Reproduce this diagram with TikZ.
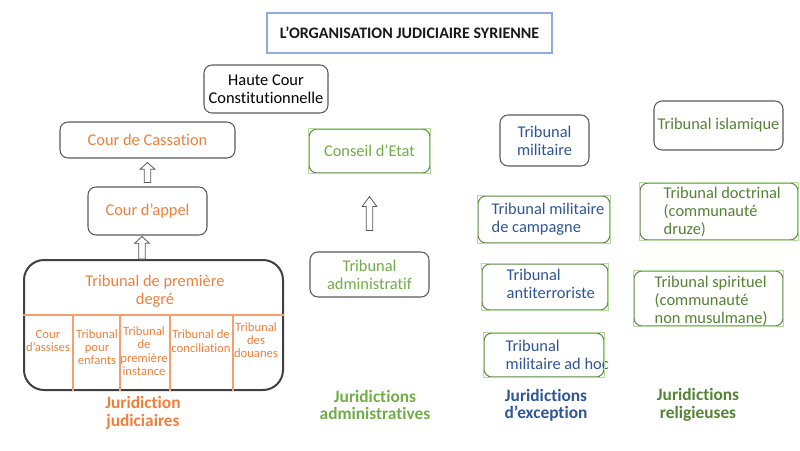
\documentclass[tikz,border=0pt]{standalone}
\usepackage{fontspec}
\setmainfont{Carlito}[Ligatures={NoCommon}]
\usetikzlibrary{calc}

\definecolor{judorange}{HTML}{F07F3C}
\definecolor{admgreen}{HTML}{70AD47}
\definecolor{relgreen}{HTML}{548235}
\definecolor{milblue}{HTML}{2F5597}
\definecolor{boxgray}{HTML}{595959}
\definecolor{bordergreen}{HTML}{5E8A44}
\definecolor{selgreen}{HTML}{B5DBA0}
\definecolor{titleblue}{HTML}{8FAADC}

\tikzset{
  base/.style={rounded corners=6pt, align=center, inner sep=1pt, line width=0.8pt,
    font=\fontsize{12.3}{13.5}\selectfont},
  court/.style={base, draw=boxgray},
  greencourt/.style={base, draw=bordergreen},
  intext/.style={anchor=west, align=left, inner sep=0pt, text=#1,
    font=\fontsize{12.3}{13.5}\selectfont},
  family/.style={align=center, text=#1, font=\bfseries\fontsize{13}{13}\selectfont},
  cell/.style={align=center, inner sep=0pt, text=judorange,
    font=\fontsize{9.5}{10}\selectfont},
  cellline/.style={draw=judorange!75, line width=0.8pt},
  selframe/.style={draw=selgreen, line width=0.5pt},
  hollow/.style={draw=boxgray, fill=white, line width=0.6pt},
}

% hollow upward arrow: from, to, head length
\newcommand{\hollowup}[3]{%
  \draw[hollow] let \p1=(#1), \p2=(#2) in
    (\x1-2.5pt,\y1) -- (\x1-2.5pt,\y2-#3) -- (\x1-5.5pt,\y2-#3) -- (\x1,\y2)
    -- (\x1+5.5pt,\y2-#3) -- (\x1+2.5pt,\y2-#3) -- (\x1+2.5pt,\y1) -- cycle;}

\begin{document}
\begin{tikzpicture}[x=0.75pt,y=-0.75pt]
  \useasboundingbox (0,0) rectangle (800,450);

  \node[draw=titleblue, line width=0.8pt, minimum width=213.75pt, minimum height=30pt,
        font=\bfseries\fontsize{12}{13.5}\selectfont, text=black!90] (titre) at (409.5,33)
        {L’ORGANISATION JUDICIAIRE SYRIENNE};

  % juridictions judiciaires
  \node[court, minimum width=93pt, minimum height=36pt] (hcc) at (266,89)
        {Haute Cour\\Constitutionnelle};
  \node[court, text=judorange, minimum width=131.25pt, minimum height=27pt] (cass) at (147.5,140)
        {Cour de Cassation};
  \node[court, text=judorange, minimum width=89.25pt, minimum height=36pt] (appel) at (147.5,211)
        {Cour d’appel};
  \node[draw=black!75, line width=1.5pt, rounded corners=15pt, minimum width=194.25pt,
        minimum height=97.5pt] (tpd) at (153.5,325) {};
  \node[base, text=judorange] (tpdtitre) at (155,291) {Tribunal de première\\degré};

  \coordinate (sep) at (0,315);
  \draw[cellline] (tpd.west |- sep) -- (tpd.east |- sep);
  \foreach \x in {73,120,170,233}
    \draw[cellline] (\x,315) -- (\x,391);

  \node[cell] (assises)   at (48,341)  {Cour\\d’assises};
  \node[cell] (enfants)   at (97,347)  {Tribunal\\pour\\enfants};
  \node[cell] (instance)  at (144,351) {Tribunal\\de\\première\\instance};
  \node[cell] (concil)    at (201,341) {Tribunal de\\conciliation};
  \node[cell] (douanes)   at (256,340) {Tribunal\\des\\douanes};

  \node[family=judorange] (judic) at (143,413) {Juridiction\\judiciaires};

  \coordinate (a2) at (142,0);
  \hollowup{$(appel.north)+(0,-4)$}{$(cass.south)+(0,4)$}{5pt}
  \hollowup{tpd.north -| a2}{$(appel.south -| a2)+(0,1)$}{5pt}

  % juridictions administratives
  \node[greencourt, text=admgreen, minimum width=90.75pt, minimum height=33pt] (conseil) at (369.5,151)
        {Conseil d’Etat};
  \node[court, text=admgreen, minimum width=89.25pt, minimum height=33.75pt] (admin) at (369.5,274.5)
        {Tribunal\\administratif};
  \hollowup{$(admin.north)+(0,-21)$}{$(conseil.south)+(0,23)$}{7.5pt}

  \node[family=admgreen] (adm) at (375,405) {Juridictions\\administratives};

  % juridictions d'exception
  \node[court, text=milblue, minimum width=66.75pt, minimum height=38.25pt] (milit) at (544.5,140.5)
        {Tribunal\\militaire};
  \node[greencourt, minimum width=99pt, minimum height=35.25pt,
        label={[intext=milblue, xshift=10.5pt]west:Tribunal militaire\\de campagne}] (campagne)
        at (544,219.5) {};
  \node[greencourt, minimum width=94.5pt, minimum height=34.5pt,
        label={[intext=milblue, xshift=18.75pt, yshift=2pt]west:Tribunal\\antiterroriste}] (antiterr)
        at (545,287) {};
  \node[greencourt, minimum width=90pt, minimum height=33pt,
        label={[intext=milblue, xshift=16.5pt]west:Tribunal\\militaire ad hoc}] (adhoc)
        at (544,355) {};

  \node[family=milblue] (except) at (546,405) {Juridictions\\d’exception};

  % juridictions religieuses
  \node[court, text=relgreen, minimum width=96.75pt, minimum height=36.75pt] (islam) at (718.5,125.5)
        {Tribunal islamique};
  \node[greencourt, minimum width=118.5pt, minimum height=42.75pt,
        label={[intext=relgreen, xshift=18pt]west:Tribunal doctrinal\\(communauté\\druze)}] (druze)
        at (719,211.5) {};
  \node[greencourt, minimum width=111.75pt, minimum height=41.25pt,
        label={[intext=relgreen, xshift=15.75pt, yshift=-1.5pt]west:Tribunal spirituel\\(communauté\\non musulmane)}] (spirit)
        at (708.5,298.5) {};

  \node[family=relgreen] (relig) at (698,405) {Juridictions\\religieuses};

  \foreach \n in {conseil,campagne,antiterr,adhoc,druze,spirit}
    \draw[selframe] (\n.south west) rectangle (\n.north east);
\end{tikzpicture}
\end{document}
